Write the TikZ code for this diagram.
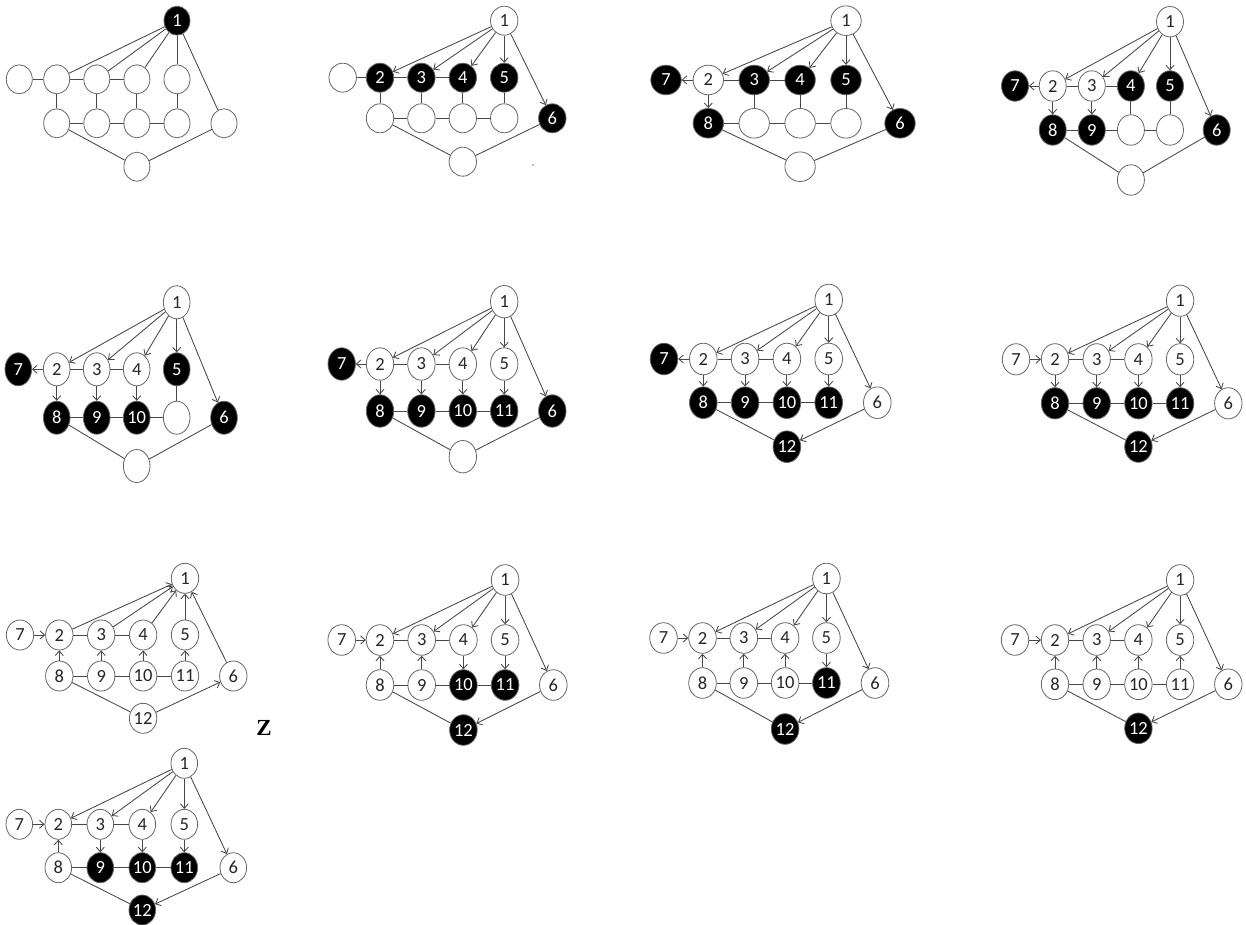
\documentclass[tikz,border=0pt]{standalone}
\usepackage{fontspec}
\setmainfont{Carlito}
\newfontfamily\zfont{Liberation Serif}
\usetikzlibrary{shapes.geometric,arrows.meta}
\newcommand\mkpanel[9]{%
 \coordinate (#1c1) at ({#2+3*#4},#6);
 \coordinate (#1c2) at (#2,#3);
 \coordinate (#1c3) at ({#2+#4},#3);
 \coordinate (#1c4) at ({#2+2*#4},#3);
 \coordinate (#1c5) at ({#2+3*#4},#3);
 \coordinate (#1c6) at (#8,#7);
 \coordinate (#1c7) at (#5,#3);
 \coordinate (#1c8) at (#2,#7);
 \coordinate (#1c9) at ({#2+#4},#7);
 \coordinate (#1c10) at ({#2+2*#4},#7);
 \coordinate (#1c11) at ({#2+3*#4},#7);
 \coordinate (#1c12) at ({#2+2*#4},#9);
}
\newcommand\pnodes[2]{\foreach \i/\st/\lb in {#2}{\node[\st] (#1\i) at (#1c\i) {\lb};}}
\newcommand\pedges[2]{\foreach \a/\b/\s in {#2}{\draw[\s] (#1\a) -- (#1\b);}}
\def\rx{13.5}\def\ry{15}
\tikzset{
 gn/.style={ellipse, draw=black!60, line width=0.8pt, inner sep=0pt,
   minimum width={2*\rx pt}, minimum height={2*\ry pt},
   font=\fontsize{18.5}{20}\selectfont},
 wn/.style={gn, fill=white, text=black!85},
 bn/.style={gn, fill=black, text=white},
 ln/.style={draw=black!72, line width=0.85pt},
 ar/.style={ln, -{Straight Barb[length=4.5pt,width=8pt]}}
}
\begin{document}
\begin{tikzpicture}[x=1pt,y=-1pt]
\useasboundingbox (0,0) rectangle (1246,925);
\fill[white] (0,0) rectangle (1246,925);
% ---------- panel a
\def\rx{13}\def\ry{14.5}
\mkpanel{a}{56.7}{79.3}{40.1}{19.3}{20.7}{123.3}{224}{166.7}
\pnodes{a}{1/bn/1,2/wn/{},3/wn/{},4/wn/{},5/wn/{},6/wn/{},7/wn/{},8/wn/{},9/wn/{},10/wn/{},11/wn/{},12/wn/{}}
\pedges{a}{1/2/ln,1/3/ln,1/4/ln,1/5/ln,1/6/ln,7/2/ln,2/3/ln,3/4/ln,2/8/ln,3/9/ln,4/10/ln,5/11/ln,8/9/ln,9/10/ln,10/11/ln,8/12/ln,12/6/ln}
% ---------- panel b
\def\rx{13.7}\def\ry{14.5}
\mkpanel{b}{380}{77.7}{41.4}{342.7}{20.7}{118.3}{552.3}{161.7}
\pnodes{b}{1/wn/1,2/bn/2,3/bn/3,4/bn/4,5/bn/5,6/bn/6,7/wn/{},8/wn/{},9/wn/{},10/wn/{},11/wn/{},12/wn/{}}
\pedges{b}{1/2/ar,1/3/ar,1/4/ar,1/5/ar,1/6/ar,7/2/ln,2/3/ln,3/4/ln,2/8/ln,3/9/ln,4/10/ln,5/11/ln,8/9/ln,9/10/ln,10/11/ln,8/12/ln,12/6/ln}
\fill[black!50] (533,165) circle (0.8);
% ---------- panel c
\def\rx{15.2}\def\ry{14.8}
\mkpanel{c}{708.3}{80}{45.9}{666}{20.7}{123.3}{900}{166.7}
\pnodes{c}{1/wn/1,2/wn/2,3/bn/3,4/bn/4,5/bn/5,6/bn/6,7/bn/7,8/bn/8,9/wn/{},10/wn/{},11/wn/{},12/wn/{}}
\pedges{c}{1/2/ar,1/3/ar,1/4/ar,1/5/ar,1/6/ar,2/7/ar,2/3/ln,3/4/ln,2/8/ar,3/9/ln,4/10/ln,5/11/ln,8/9/ln,9/10/ln,10/11/ln,8/12/ln,12/6/ln}
% ---------- panel d
\def\rx{13.5}\def\ry{15.2}
\mkpanel{d}{1052.7}{86}{39.1}{1015}{21.7}{130}{1216.7}{180}
\pnodes{d}{1/wn/1,2/wn/2,3/wn/3,4/bn/4,5/bn/5,6/bn/6,7/bn/7,8/bn/8,9/bn/9,10/wn/{},11/wn/{},12/wn/{}}
\pedges{d}{1/2/ar,1/3/ar,1/4/ar,1/5/ar,1/6/ar,2/7/ar,2/3/ln,3/4/ln,2/8/ar,3/9/ar,4/10/ln,5/11/ln,8/9/ln,9/10/ln,10/11/ln,8/12/ln,12/6/ln}
% ---------- panel e
\def\rx{13.3}\def\ry{16.5}
\mkpanel{e}{56.7}{369.3}{40}{18.3}{302.3}{417.7}{224}{466}
\pnodes{e}{1/wn/1,2/wn/2,3/wn/3,4/wn/4,5/bn/5,6/bn/6,7/bn/7,8/bn/8,9/bn/9,10/bn/10,11/wn/{},12/wn/{}}
\pedges{e}{1/2/ar,1/3/ar,1/4/ar,1/5/ar,1/6/ar,2/7/ar,2/3/ln,3/4/ln,2/8/ar,3/9/ar,4/10/ar,5/11/ln,8/9/ln,9/10/ln,10/11/ln,8/12/ln,12/6/ln}
% ---------- panel f
\def\rx{13.7}\def\ry{16.2}
\mkpanel{f}{380}{364}{41.4}{341.7}{301.7}{411}{552.3}{456.7}
\pnodes{f}{1/wn/1,2/wn/2,3/wn/3,4/wn/4,5/wn/5,6/bn/6,7/bn/7,8/bn/8,9/bn/9,10/bn/10,11/bn/11,12/wn/{}}
\pedges{f}{1/2/ar,1/3/ar,1/4/ar,1/5/ar,1/6/ar,2/7/ar,2/3/ln,3/4/ln,2/8/ar,3/9/ar,4/10/ar,5/11/ar,8/9/ln,9/10/ln,10/11/ln,8/12/ln,12/6/ln}
% ---------- panel g
\def\rx{13.8}\def\ry{15.8}
\mkpanel{g}{703.3}{359}{41.8}{664}{300}{402.7}{877.3}{446.7}
\pnodes{g}{1/wn/1,2/wn/2,3/wn/3,4/wn/4,5/wn/5,6/wn/6,7/bn/7,8/bn/8,9/bn/9,10/bn/10,11/bn/11,12/bn/12}
\pedges{g}{1/2/ar,1/3/ar,1/4/ar,1/5/ar,1/6/ar,2/7/ar,2/3/ln,3/4/ln,2/8/ar,3/9/ar,4/10/ar,5/11/ar,8/9/ln,9/10/ln,10/11/ln,8/12/ln,6/12/ar}
% ---------- panel h
\def\rx{13.7}\def\ry{15.6}
\mkpanel{h}{1055}{359.3}{41.7}{1016}{300.7}{403.3}{1228.3}{446.7}
\pnodes{h}{1/wn/1,2/wn/2,3/wn/3,4/wn/4,5/wn/5,6/wn/6,7/wn/7,8/bn/8,9/bn/9,10/bn/10,11/bn/11,12/bn/12}
\pedges{h}{1/2/ar,1/3/ar,1/4/ar,1/5/ar,1/6/ar,7/2/ar,2/3/ln,3/4/ln,2/8/ar,3/9/ar,4/10/ar,5/11/ar,8/9/ln,9/10/ln,10/11/ln,8/12/ln,6/12/ar}
% ---------- panel i
\def\rx{13.7}\def\ry{15}
\mkpanel{i}{59.3}{635}{41.9}{20}{578.3}{676}{233.3}{718.3}
\pnodes{i}{1/wn/1,2/wn/2,3/wn/3,4/wn/4,5/wn/5,6/wn/6,7/wn/7,8/wn/8,9/wn/9,10/wn/10,11/wn/11,12/wn/12}
\pedges{i}{2/1/ar,3/1/ar,4/1/ar,5/1/ar,6/1/ar,7/2/ar,2/3/ln,3/4/ln,8/2/ar,9/3/ar,10/4/ar,11/5/ar,8/9/ln,9/10/ln,10/11/ln,8/12/ln,12/6/ar}
\node[font=\zfont\bfseries\fontsize{23}{25}\selectfont] (zlabel) at (264,728) {Z};
% ---------- panel j
\def\rx{13.8}\def\ry{15.3}
\mkpanel{j}{380}{640}{41.7}{341.7}{580}{685}{553.3}{730}
\pnodes{j}{1/wn/1,2/wn/2,3/wn/3,4/wn/4,5/wn/5,6/wn/6,7/wn/7,8/wn/8,9/wn/9,10/bn/10,11/bn/11,12/bn/12}
\pedges{j}{1/2/ar,1/3/ar,1/4/ar,1/5/ar,1/6/ar,7/2/ar,2/3/ln,3/4/ln,8/2/ar,9/3/ar,4/10/ar,5/11/ar,8/9/ln,9/10/ln,10/11/ln,8/12/ln,6/12/ar}
% ---------- panel k
\def\rx{13.8}\def\ry{15.3}
\mkpanel{k}{702.5}{638}{41.3}{663.5}{578.5}{683}{875}{729}
\pnodes{k}{1/wn/1,2/wn/2,3/wn/3,4/wn/4,5/wn/5,6/wn/6,7/wn/7,8/wn/8,9/wn/9,10/wn/10,11/bn/11,12/bn/12}
\pedges{k}{1/2/ar,1/3/ar,1/4/ar,1/5/ar,1/6/ar,7/2/ar,2/3/ln,3/4/ln,8/2/ar,9/3/ar,10/4/ar,5/11/ar,8/9/ln,9/10/ln,10/11/ln,8/12/ln,6/12/ar}
% ---------- panel l
\def\rx{13.7}\def\ry{15.3}
\mkpanel{l}{1055}{640}{41.7}{1015}{580}{684.3}{1228.3}{728.3}
\pnodes{l}{1/wn/1,2/wn/2,3/wn/3,4/wn/4,5/wn/5,6/wn/6,7/wn/7,8/wn/8,9/wn/9,10/wn/10,11/wn/11,12/bn/12}
\pedges{l}{1/2/ar,1/3/ar,1/4/ar,1/5/ar,1/6/ar,7/2/ar,2/3/ln,3/4/ln,8/2/ar,9/3/ar,10/4/ar,11/5/ar,8/9/ln,9/10/ln,10/11/ln,8/12/ln,6/12/ar}
% ---------- panel m
\def\rx{13.3}\def\ry{15}
\mkpanel{m}{58.3}{824.3}{42}{19.3}{763.3}{867.7}{233.3}{910}
\pnodes{m}{1/wn/1,2/wn/2,3/wn/3,4/wn/4,5/wn/5,6/wn/6,7/wn/7,8/wn/8,9/bn/9,10/bn/10,11/bn/11,12/bn/12}
\pedges{m}{1/2/ar,1/3/ar,1/4/ar,1/5/ar,1/6/ar,7/2/ar,2/3/ln,3/4/ln,8/2/ar,3/9/ar,4/10/ar,5/11/ar,8/9/ln,9/10/ln,10/11/ln,8/12/ln,6/12/ar}
\end{tikzpicture}
\end{document}
